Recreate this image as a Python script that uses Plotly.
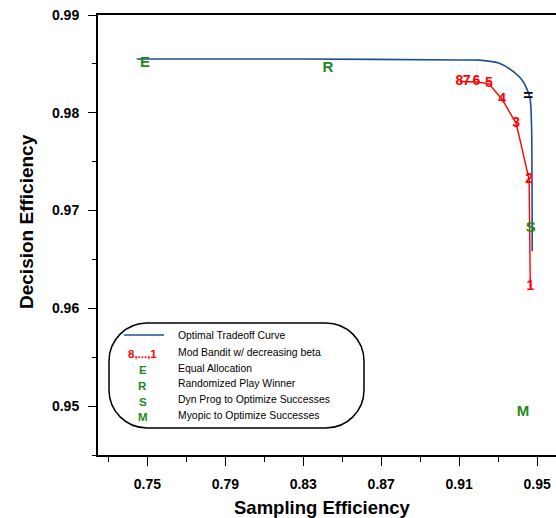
import plotly.graph_objects as go

# ---------------- data ----------------
opt_x = [0.7445, 0.8282, 0.9103, 0.9206, 0.9309, 0.9375, 0.9427, 0.9463, 0.9471, 0.9474, 0.9475]
opt_y = [0.9855, 0.9855, 0.9854, 0.98538, 0.98504, 0.98425, 0.98323, 0.98156, 0.97900, 0.97317, 0.96584]

bandit_labels = ["8", "7", "6", "5", "4", "3", "2", "1"]
bandit_x = [0.9101, 0.9139, 0.9188, 0.9252, 0.9321, 0.9393, 0.9459, 0.9465]
bandit_y = [0.9832, 0.9832, 0.98315, 0.98299, 0.98136, 0.9789, 0.97317, 0.96223]

method_labels = ["E", "R", "S", "M"]
method_x = [0.7488, 0.8427, 0.9467, 0.9427]
method_y = [0.98504, 0.98456, 0.96816, 0.94939]

mark_labels = ["="]
mark_x = [0.9454]
mark_y = [0.98161]

legend_symbols = ["", "8,...,1", "E", "R", "S", "M"]
legend_texts = [
    "Optimal Tradeoff Curve",
    "Mod Bandit w/ decreasing beta",
    "Equal Allocation",
    "Randomized Play Winner",
    "Dyn Prog to Optimize Successes",
    "Myopic to Optimize Successes",
]

x_title = "Sampling Efficiency"
y_title = "Decision Efficiency"

# ---------------- style ----------------
BLUE = "#1f4f91"
RED = "#ff0000"
GREEN = "#1e8a1e"
FONT = "Liberation Sans, Arial, Helvetica, sans-serif"

W, H = 556, 518
ML, MR, MT, MB = 98, 0, 15, 63
PW, PH = W - ML - MR, H - MT - MB


def px(xp):
    return (xp - ML) / PW


def py(yp):
    return 1 - (yp - MT) / PH


fig = go.Figure()

fig.add_trace(go.Scatter(
    x=opt_x, y=opt_y, mode="lines",
    line=dict(color=BLUE, width=1.6, shape="spline", smoothing=0.7),
    hoverinfo="skip"))

fig.add_trace(go.Scatter(
    x=bandit_x, y=bandit_y, mode="lines+text",
    text=bandit_labels, textposition="middle center",
    textfont=dict(family=FONT, size=14, color=RED, weight="bold"),
    line=dict(color=RED, width=1.4), cliponaxis=False, hoverinfo="skip"))

fig.add_trace(go.Scatter(
    x=method_x, y=method_y, mode="text",
    text=method_labels, textposition="middle center",
    textfont=dict(family=FONT, size=15, color=GREEN, weight="bold"),
    cliponaxis=False, hoverinfo="skip"))

fig.add_trace(go.Scatter(
    x=mark_x, y=mark_y, mode="text",
    text=mark_labels, textposition="middle center",
    textfont=dict(family=FONT, size=17, color="black", weight="bold"),
    cliponaxis=False, hoverinfo="skip"))

# ---------------- legend (manual, rounded box) ----------------
bx0, bx1, by0, by1, r = 109, 364, 323, 428, 38
k = 0.5523 * r


def P(a, b):
    return f"{px(a):.5f},{py(b):.5f}"


path = (
    f"M {P(bx0 + r, by0)} L {P(bx1 - r, by0)} "
    f"C {P(bx1 - r + k, by0)} {P(bx1, by0 + r - k)} {P(bx1, by0 + r)} "
    f"L {P(bx1, by1 - r)} "
    f"C {P(bx1, by1 - r + k)} {P(bx1 - r + k, by1)} {P(bx1 - r, by1)} "
    f"L {P(bx0 + r, by1)} "
    f"C {P(bx0 + r - k, by1)} {P(bx0, by1 - r + k)} {P(bx0, by1 - r)} "
    f"L {P(bx0, by0 + r)} "
    f"C {P(bx0, by0 + r - k)} {P(bx0 + r - k, by0)} {P(bx0 + r, by0)} Z"
)

shapes = [
    dict(type="path", xref="paper", yref="paper", path=path,
         line=dict(color="black", width=1.5), fillcolor="rgba(0,0,0,0)"),
    dict(type="line", xref="paper", yref="paper",
         x0=px(124), x1=px(164), y0=py(335), y1=py(335),
         line=dict(color=BLUE, width=1.6)),
]

annotations = []
row_y = [335, 352.5, 368, 383.8, 399.5, 415.3]
sym_y = [335, 354.3, 370, 386, 402, 416.7]
for i, (sym, txt) in enumerate(zip(legend_symbols, legend_texts)):
    annotations.append(dict(
        xref="paper", yref="paper", x=px(176), y=py(row_y[i]),
        xanchor="left", yanchor="middle", text=txt, showarrow=False,
        font=dict(family=FONT, size=10.4, color="black")))
    if sym:
        annotations.append(dict(
            xref="paper", yref="paper", x=px(142.5), y=py(sym_y[i]),
            xanchor="center", yanchor="middle", text=sym, showarrow=False,
            font=dict(family=FONT, size=11.5, weight="bold",
                      color=RED if i == 1 else GREEN)))

annotations.append(dict(
    xref="paper", yref="paper", x=px(322), y=py(507),
    xanchor="center", yanchor="middle", text=x_title, showarrow=False,
    font=dict(family=FONT, size=18.5, weight="bold", color="black")))
annotations.append(dict(
    xref="paper", yref="paper", x=px(26), y=py(222),
    xanchor="center", yanchor="middle", text=y_title, showarrow=False,
    textangle=-90,
    font=dict(family=FONT, size=19, weight="bold", color="black")))

fig.update_layout(
    width=W, height=H,
    margin=dict(l=ML, r=MR, t=MT, b=MB, pad=0),
    plot_bgcolor="white", paper_bgcolor="white",
    showlegend=False,
    shapes=shapes, annotations=annotations,
    font=dict(family=FONT, color="black"),
    xaxis=dict(
        range=[0.72465, 0.9597], tick0=0.75, dtick=0.04, tickformat=".2f",
        showline=True, linecolor="black", linewidth=2, mirror=True,
        ticks="outside", ticklen=9, tickwidth=1, tickcolor="black",
        minor=dict(ticks="outside", ticklen=5, tickwidth=1, tickcolor="black",
                   tick0=0.73, dtick=0.04),
        tickfont=dict(family=FONT, size=14, weight="bold", color="black"),
        ticklabelstandoff=6,
        showgrid=False, zeroline=False),
    yaxis=dict(
        range=[0.945, 0.99], tick0=0.95, dtick=0.01, tickformat=".2f",
        showline=True, linecolor="black", linewidth=2, mirror=False,
        ticks="outside", ticklen=8, tickwidth=1, tickcolor="black",
        minor=dict(ticks="outside", ticklen=4, tickwidth=1, tickcolor="black",
                   tick0=0.945, dtick=0.01),
        tickfont=dict(family=FONT, size=14, weight="bold", color="black"),
        ticklabelstandoff=6,
        showgrid=False, zeroline=False),
)

fig.write_html(
    "out.html",
    config={"displayModeBar": False},
    post_script="document.body.style.margin='0px';document.body.style.overflow='hidden';",
)
